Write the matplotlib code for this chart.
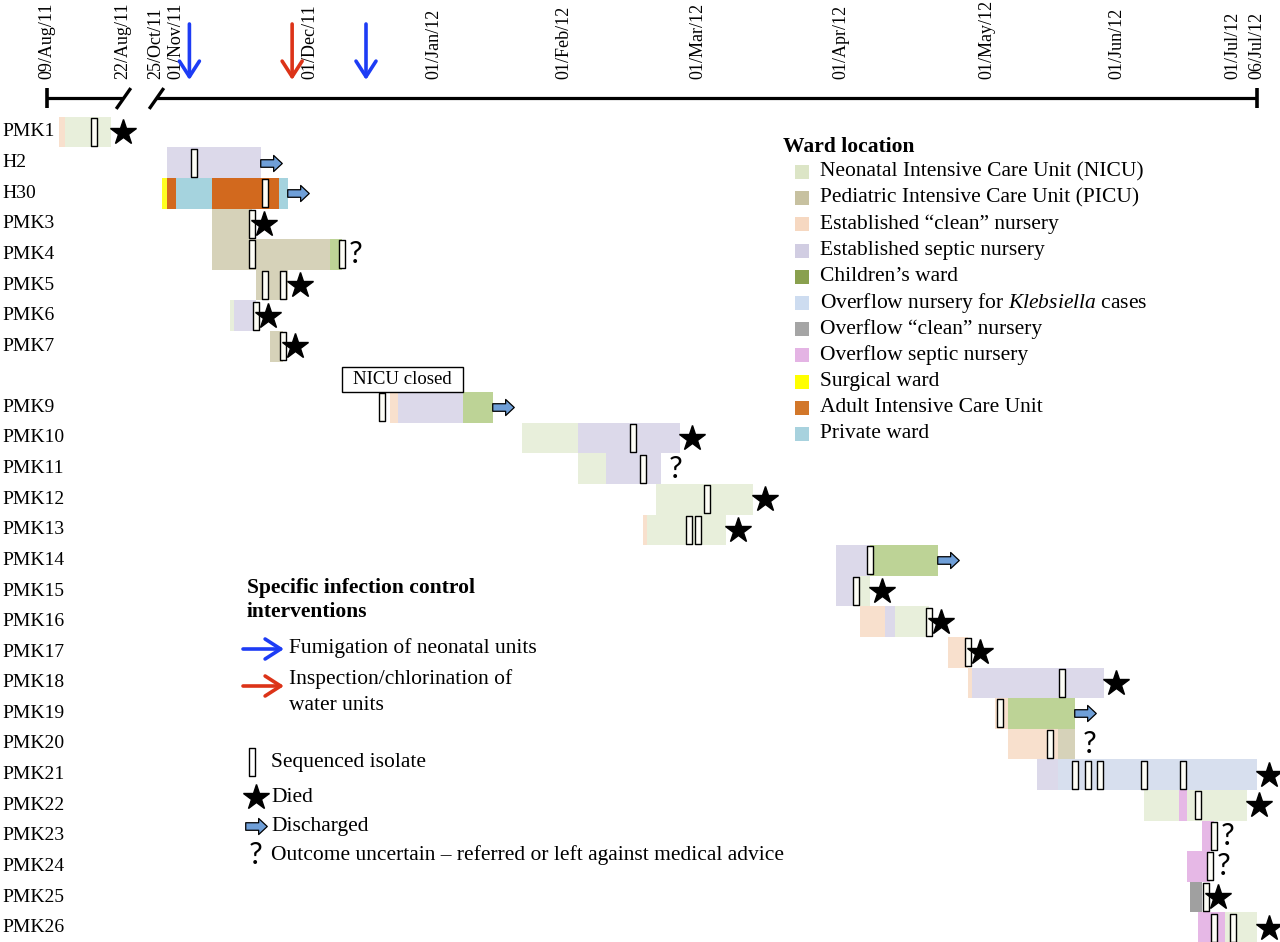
import matplotlib
matplotlib.use('Agg')
import matplotlib.pyplot as plt
import matplotlib.transforms as mtransforms
from matplotlib.path import Path
from matplotlib.patches import Rectangle
import numpy as np
import pandas as pd

plt.rcParams['font.family'] = ['Liberation Serif', 'DejaVu Serif']
plt.rcParams['mathtext.fontset'] = 'custom'
plt.rcParams['mathtext.rm'] = 'Liberation Serif'
plt.rcParams['mathtext.it'] = 'Liberation Serif:italic'

T0 = pd.Timestamp('2011-08-09')


def day(s):
    return (pd.Timestamp(s) - T0).days


# ---- data -------------------------------------------------------------
patients = ['PMK1', 'H2', 'H30', 'PMK3', 'PMK4', 'PMK5', 'PMK6', 'PMK7', '',
            'PMK9', 'PMK10', 'PMK11', 'PMK12', 'PMK13', 'PMK14', 'PMK15',
            'PMK16', 'PMK17', 'PMK18', 'PMK19', 'PMK20', 'PMK21', 'PMK22',
            'PMK23', 'PMK24', 'PMK25', 'PMK26']

ward_keys = ['nicu', 'picu', 'clean', 'septic', 'child', 'kleb', 'oclean',
             'osept', 'surg', 'aicu', 'priv']
ward_labels = ['Neonatal Intensive Care Unit (NICU)',
               'Pediatric Intensive Care Unit (PICU)',
               'Established \u201cclean\u201d nursery',
               'Established septic nursery',
               'Children\u2019s ward',
               r'Overflow nursery for $\it{Klebsiella}$ cases',
               'Overflow \u201cclean\u201d nursery',
               'Overflow septic nursery',
               'Surgical ward',
               'Adult Intensive Care Unit',
               'Private ward']
swatch_colors = ['#dce5c6', '#c7c1a0', '#f6d8c1', '#d1cde2', '#89a04e', '#cddcf0',
                 '#a5a5a5', '#e4b4e4', '#ffff00', '#d2772a', '#a8d2de']
bar_colors = ['#e8efdb', '#d6d2b9', '#f8e0cd', '#dcd9ea', '#bdd396', '#d7dfee',
              '#a0a0a0', '#e6b8e6', '#ffff22', '#d2691e', '#a5d3de']

# (patient, ward, from, to)
stays = [
    ('PMK1', 'clean', '2011-08-11', '2011-08-12'),
    ('PMK1', 'nicu', '2011-08-12', '2011-08-20'),
    ('H2', 'septic', '2011-10-29', '2011-11-20'),
    ('H30', 'surg', '2011-10-27', '2011-10-29'),
    ('H30', 'aicu', '2011-10-29', '2011-11-01'),
    ('H30', 'priv', '2011-11-01', '2011-11-09'),
    ('H30', 'aicu', '2011-11-09', '2011-11-24'),
    ('H30', 'priv', '2011-11-24', '2011-11-26'),
    ('PMK3', 'picu', '2011-11-09', '2011-11-18'),
    ('PMK4', 'picu', '2011-11-09', '2011-12-06'),
    ('PMK4', 'child', '2011-12-06', '2011-12-09'),
    ('PMK5', 'picu', '2011-11-19', '2011-11-26'),
    ('PMK6', 'nicu', '2011-11-13', '2011-11-14'),
    ('PMK6', 'septic', '2011-11-14', '2011-11-19'),
    ('PMK7', 'picu', '2011-11-22', '2011-11-25'),
    ('PMK9', 'clean', '2011-12-21', '2011-12-23'),
    ('PMK9', 'septic', '2011-12-23', '2012-01-08'),
    ('PMK9', 'child', '2012-01-08', '2012-01-15'),
    ('PMK10', 'nicu', '2012-01-22', '2012-02-04'),
    ('PMK10', 'septic', '2012-02-04', '2012-02-26'),
    ('PMK11', 'nicu', '2012-02-04', '2012-02-10'),
    ('PMK11', 'septic', '2012-02-10', '2012-02-22'),
    ('PMK12', 'nicu', '2012-02-21', '2012-03-13'),
    ('PMK13', 'clean', '2012-02-18', '2012-02-19'),
    ('PMK13', 'nicu', '2012-02-19', '2012-03-07'),
    ('PMK14', 'septic', '2012-03-31', '2012-04-07'),
    ('PMK14', 'child', '2012-04-07', '2012-04-21'),
    ('PMK15', 'septic', '2012-03-31', '2012-04-05'),
    ('PMK15', 'nicu', '2012-04-05', '2012-04-07'),
    ('PMK16', 'clean', '2012-04-05', '2012-04-10'),
    ('PMK16', 'septic', '2012-04-10', '2012-04-12'),
    ('PMK16', 'nicu', '2012-04-12', '2012-04-19'),
    ('PMK17', 'clean', '2012-04-23', '2012-04-27'),
    ('PMK18', 'clean', '2012-04-27', '2012-04-28'),
    ('PMK18', 'septic', '2012-04-28', '2012-05-29'),
    ('PMK19', 'clean', '2012-05-03', '2012-05-06'),
    ('PMK19', 'child', '2012-05-06', '2012-05-22'),
    ('PMK20', 'clean', '2012-05-06', '2012-05-18'),
    ('PMK20', 'picu', '2012-05-18', '2012-05-22'),
    ('PMK21', 'septic', '2012-05-13', '2012-05-18'),
    ('PMK21', 'kleb', '2012-05-18', '2012-07-06'),
    ('PMK22', 'nicu', '2012-06-08', '2012-06-17'),
    ('PMK22', 'osept', '2012-06-17', '2012-06-19'),
    ('PMK22', 'nicu', '2012-06-19', '2012-07-04'),
    ('PMK23', 'osept', '2012-06-23', '2012-06-26'),
    ('PMK24', 'osept', '2012-06-19', '2012-06-25'),
    ('PMK25', 'oclean', '2012-06-20', '2012-06-23'),
    ('PMK26', 'osept', '2012-06-22', '2012-06-29'),
    ('PMK26', 'nicu', '2012-06-29', '2012-07-06'),
]

# sequenced isolates (patient, sample date)
isolates = [
    ('PMK1', '2011-08-17'), ('H2', '2011-11-05'), ('H30', '2011-11-21'),
    ('PMK3', '2011-11-18'), ('PMK4', '2011-11-18'), ('PMK4', '2011-12-09'),
    ('PMK5', '2011-11-21'), ('PMK5', '2011-11-25'), ('PMK6', '2011-11-19'),
    ('PMK7', '2011-11-25'), ('PMK9', '2011-12-19'), ('PMK10', '2012-02-16'),
    ('PMK11', '2012-02-18'), ('PMK12', '2012-03-03'), ('PMK13', '2012-02-28'),
    ('PMK13', '2012-03-01'), ('PMK14', '2012-04-07'), ('PMK15', '2012-04-04'),
    ('PMK16', '2012-04-19'), ('PMK17', '2012-04-27'), ('PMK18', '2012-05-19'),
    ('PMK19', '2012-05-04'), ('PMK20', '2012-05-16'), ('PMK21', '2012-05-22'),
    ('PMK21', '2012-05-25'), ('PMK21', '2012-05-28'), ('PMK21', '2012-06-08'),
    ('PMK21', '2012-06-18'), ('PMK22', '2012-06-22'), ('PMK23', '2012-06-26'),
    ('PMK24', '2012-06-25'), ('PMK25', '2012-06-24'), ('PMK26', '2012-06-26'),
    ('PMK26', '2012-07-01'),
]

outcomes = {
    'PMK1': 'died', 'H2': 'discharged', 'H30': 'discharged', 'PMK3': 'died',
    'PMK4': 'unknown', 'PMK5': 'died', 'PMK6': 'died', 'PMK7': 'died',
    'PMK9': 'discharged', 'PMK10': 'died', 'PMK11': 'unknown', 'PMK12': 'died',
    'PMK13': 'died', 'PMK14': 'discharged', 'PMK15': 'died', 'PMK16': 'died',
    'PMK17': 'died', 'PMK18': 'died', 'PMK19': 'discharged', 'PMK20': 'unknown',
    'PMK21': 'died', 'PMK22': 'died', 'PMK23': 'unknown', 'PMK24': 'unknown',
    'PMK25': 'died', 'PMK26': 'died',
}

fumigation_dates = ['2011-11-04', '2011-12-15']
chlorination_dates = ['2011-11-27']
nicu_closed = ('2011-12-09', '2012-01-08')

tick_dates = ['2011-08-09', '2011-08-22', '2011-10-25', '2011-11-01', '2011-12-01',
              '2012-01-01', '2012-02-01', '2012-03-01', '2012-04-01', '2012-05-01',
              '2012-06-01', '2012-07-01', '2012-07-06']
tick_labels = ['09/Aug/11', '22/Aug/11', '25/Oct/11', '01/Nov/11', '01/Dec/11',
               '01/Jan/12', '01/Feb/12', '01/Mar/12', '01/Apr/12', '01/May/12',
               '01/Jun/12', '01/Jul/12', '06/Jul/12']

# ---- layout -----------------------------------------------------------
W, H = 1280, 942
ROW_TOP, ROW_PX = 132, 30.6


def py(p):
    # pixel row (from top) -> y data units (rows)
    return (p - ROW_TOP) / ROW_PX


def fp(x, y):
    # top-left pixel -> figure pixels
    return (x, H - y)


# the time axis in the original is hand drawn and broken between Aug and Oct,
# so dates are mapped to positions piecewise
anchor_px = [47, 123, 156, 176, 310, 434, 564, 698, 841, 987, 1117, 1233, 1257]
ad = [day(d) for d in tick_dates]
ad = [ad[0] - 40] + ad + [ad[-1] + 60]
ap = [47 - 40 * 5.85] + anchor_px + [1257 + 60 * 4.8]


def forward(d):
    return np.interp(d, ad, ap)


def inverse(p):
    return np.interp(p, ap, ad)


fig = plt.figure(figsize=(W / 100, H / 100), dpi=100)
ax = fig.add_axes([0, 0, 1, 1])
ax.set_xscale('function', functions=(forward, inverse))
ax.axis('off')

row_of = {p: i for i, p in enumerate(patients)}

# patient labels
for i, p in enumerate(patients):
    if p:
        ax.annotate(p, fp(2, ROW_TOP + i * ROW_PX), xycoords='figure pixels',
                    va='center', ha='left', fontsize=14)

# stays
for p, w, a, b in stays:
    k = ward_keys.index(w)
    ax.barh(row_of[p], day(b) - day(a), left=day(a), height=1.0,
            color=bar_colors[k], lw=0)

# isolates
iso_path = Path([(-0.1, -0.5), (0.1, -0.5), (0.1, 0.5), (-0.1, 0.5), (-0.1, -0.5)],
                [Path.MOVETO, Path.LINETO, Path.LINETO, Path.LINETO, Path.CLOSEPOLY])
arrow_path = Path([(-1, -0.35), (0.2, -0.35), (0.2, -0.75), (1, 0), (0.2, 0.75),
                   (0.2, 0.35), (-1, 0.35), (-1, -0.35)],
                  [Path.MOVETO] + [Path.LINETO] * 6 + [Path.CLOSEPOLY])
iso_x = [day(d) for p, d in isolates]
iso_y = [row_of[p] for p, d in isolates]
ax.plot(iso_x, iso_y, ls='none', marker=iso_path, ms=20.5, mfc='#fdfdf6',
        mec='black', mew=1.0, zorder=3)

# outcomes
for p, kind in outcomes.items():
    last = max([day(b) for q, w, a, b in stays if q == p] +
               [day(d) for q, d in isolates if q == p])
    r = row_of[p]
    if kind == 'died':
        tr = mtransforms.offset_copy(ax.transData, fig=fig, x=12, y=0, units='dots')
        ax.plot([last], [r], ls='none', marker='*', ms=19, color='black',
                transform=tr, zorder=4)
    elif kind == 'discharged':
        tr = mtransforms.offset_copy(ax.transData, fig=fig, x=10, y=0, units='dots')
        ax.plot([last], [r], ls='none', marker=arrow_path, ms=15.5, mfc='#6f9fd8',
                mec='black', mew=0.9, transform=tr, zorder=4)
    else:
        tr = mtransforms.offset_copy(ax.transData, fig=fig, x=14, y=0, units='dots')
        ax.text(last, r, '?', transform=tr, ha='center', va='center',
                fontsize=22, family='Lato', zorder=4)

# NICU closed box
c0, c1 = day(nicu_closed[0]), day(nicu_closed[1])
ax.add_patch(Rectangle((c0, py(367)), c1 - c0, py(392) - py(367), fc='white',
                       ec='black', lw=1.0, zorder=2))
ax.text(inverse((forward(c0) + forward(c1)) / 2), (py(367) + py(392)) / 2,
        'NICU closed', ha='center', va='center', fontsize=13.5, zorder=3)

# time axis
ya = py(98)
ax.plot([day('2011-08-09'), day('2011-08-22')], [ya, ya], color='black', lw=2.3,
        solid_capstyle='butt')
ax.plot([day('2011-10-25'), day('2012-07-06')], [ya, ya], color='black', lw=2.3,
        solid_capstyle='butt')
ax.plot([day('2011-08-09'), day('2012-07-06')], [ya, ya], ls='none', marker='|',
        ms=15, mew=2.6, color='black')
slash = Path([(-0.7, -1), (0.7, 1)], [Path.MOVETO, Path.LINETO])
ax.plot([day('2011-08-22'), day('2011-10-25')], [ya, ya], ls='none', marker=slash,
        ms=15, mew=2.4, mec='black')
for d, lab in zip(tick_dates, tick_labels):
    ax.text(day(d), py(79), lab, rotation=90, ha='center', va='bottom', fontsize=13)

# interventions
for dates, col in [(fumigation_dates, '#1d3cf5'), (chlorination_dates, '#dc3318')]:
    for d in dates:
        ax.annotate('', xy=(day(d), py(80)), xytext=(day(d), py(24)),
                    arrowprops=dict(arrowstyle='->,head_length=0.7,head_width=0.45',
                                    color=col, lw=2.6, shrinkA=0, shrinkB=0,
                                    mutation_scale=16))

# ward legend
ax.annotate('Ward location', fp(783, 147), xycoords='figure pixels', va='center',
            fontsize=15.5, fontweight='bold')
for i, (lab, col) in enumerate(zip(ward_labels, swatch_colors)):
    yc = 172 + i * 26.2
    fig.add_artist(Rectangle((795, H - yc - 7), 14, 14, color=col, lw=0,
                             transform=mtransforms.IdentityTransform()))
    ax.annotate(lab, fp(820, yc), xycoords='figure pixels', va='center',
                fontsize=15.5)

# interventions / symbols legend
ax.annotate('Specific infection control', fp(247, 588), xycoords='figure pixels',
            va='center', fontsize=15.5, fontweight='bold')
ax.annotate('interventions', fp(247, 612), xycoords='figure pixels',
            va='center', fontsize=15.5, fontweight='bold')
for yc, col in [(649, '#1d3cf5'), (686, '#dc3318')]:
    ax.annotate('', xy=fp(284, yc), xytext=fp(243, yc), xycoords='figure pixels',
                textcoords='figure pixels',
                arrowprops=dict(arrowstyle='->,head_length=0.7,head_width=0.45',
                                color=col, lw=2.6, shrinkA=0, shrinkB=0,
                                mutation_scale=16))
ax.annotate('Fumigation of neonatal units', fp(289, 648), xycoords='figure pixels',
            va='center', fontsize=15.5)
ax.annotate('Inspection/chlorination of', fp(289, 679), xycoords='figure pixels',
            va='center', fontsize=15.5)
ax.annotate('water units', fp(289, 705), xycoords='figure pixels',
            va='center', fontsize=15.5)

ident = mtransforms.IdentityTransform()
ax.plot([252], [H - 762], ls='none', marker=iso_path, ms=20.5, mfc='white',
        mec='black', mew=1.0, transform=ident)
ax.plot([256], [H - 797], ls='none', marker='*', ms=19, color='black', transform=ident)
ax.plot([256], [H - 826], ls='none', marker=arrow_path, ms=15.5, mfc='#6f9fd8',
        mec='black', mew=0.9, transform=ident)
ax.annotate('?', fp(256, 855), xycoords='figure pixels', ha='center', va='center',
            fontsize=22, family='Lato')
for yc, lab in [(762, 'Sequenced isolate'), (797, 'Died'), (826, 'Discharged'),
                (855, 'Outcome uncertain \u2013 referred or left against medical advice')]:
    ax.annotate(lab, fp(271, yc), xycoords='figure pixels', va='center', fontsize=15.5)

ax.set_xlim(inverse(0), inverse(W))
ax.set_ylim(py(H), py(0))

fig.savefig('out.png', dpi=100)
